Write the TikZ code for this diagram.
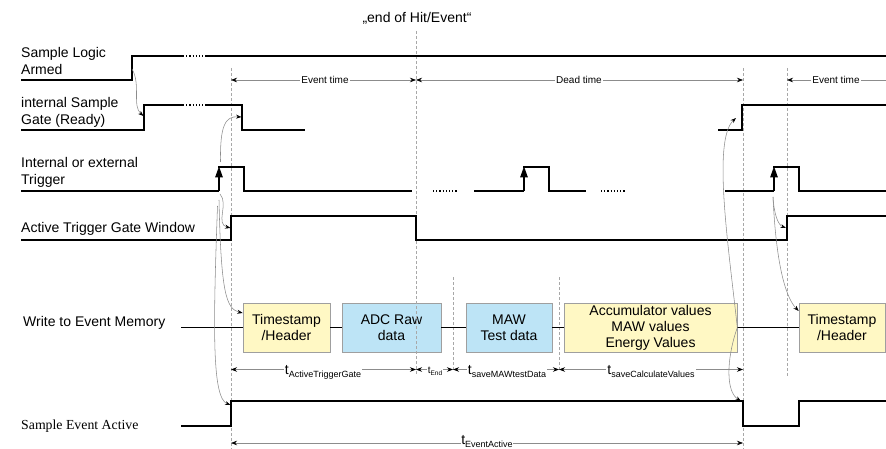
\documentclass[tikz,border=0pt]{standalone}
\usepackage{fontspec}
\setmainfont{Liberation Sans}
\newfontfamily\seriffont{Liberation Serif}
\usetikzlibrary{arrows.meta}
\definecolor{yellowbox}{HTML}{FFF8C4}
\definecolor{bluebox}{HTML}{BDE4F6}
\definecolor{linegray}{HTML}{8C8C8C}
\definecolor{dashgray}{HTML}{A8A8A8}
\newcommand\tlab[1]{{\fontsize{14}{16}\selectfont t}\raisebox{-3pt}{\fontsize{9}{10}\selectfont #1}}
\newcommand\tlabsmall[1]{{\fontsize{10}{12}\selectfont t}\raisebox{-2pt}{\fontsize{6.5}{8}\selectfont #1}}
\begin{document}
\begin{tikzpicture}[x=1pt,y=-1pt,
  sig/.style={line width=1.2pt, black},
  trig/.style={line width=1.2pt, -{Triangle[length=11pt,width=7.5pt]}},
  vdash/.style={dashgray, line width=0.6pt, dash pattern=on 3pt off 2pt},
  dimline/.style={linegray, line width=0.6pt},
  dim/.style={dimline, {Stealth[length=6pt,width=4.5pt,black]}-{Stealth[length=6pt,width=4.5pt,black]}},
  ldim/.style={dimline, {Stealth[length=6pt,width=4.5pt,black]}-},
  curv/.style={linegray, line width=0.55pt, -{Stealth[length=5.5pt,width=4pt,black]}},
  lbl/.style={font=\fontsize{14}{17}\selectfont, align=left, inner sep=0pt},
  boxbase/.style={draw=gray!75, line width=0.6pt, minimum height=49pt, align=center, inner sep=0pt, font=\fontsize{14}{16}\selectfont},
  ybox/.style={boxbase, fill=yellowbox},
  bbox/.style={boxbase, fill=bluebox},
  smalltxt/.style={font=\fontsize{10}{12}\selectfont, fill=white, inner sep=1pt},
  tl/.style={fill=white, inner sep=1pt},
]
\useasboundingbox (0,0) rectangle (886,449);

% ---- boxes (Write to Event Memory)
\node[ybox, minimum width=87pt]  (b1) at (286.5,327.5) {Timestamp\\/Header};
\node[bbox, minimum width=99pt]  (b2) at (391.5,327.5) {ADC Raw\\data};
\node[bbox, minimum width=86pt]  (b3) at (509,327.5)   {MAW\\Test data};
\node[ybox, minimum width=173pt] (b4) at (650.5,327.5) {Accumulator values\\MAW values\\Energy Values};
\node[ybox, minimum width=86pt]  (b5) at (842,327.5)   {Timestamp\\/Header};

% ---- vertical dashed lines
\draw[vdash] (231,68) -- (231,449);
\draw[vdash] (416,31) -- (416,375);
\draw[vdash] (453,277) -- (453,370);
\draw[vdash] (559,277) -- (559,370);
\draw[vdash] (743,68) -- (743,449);
\draw[vdash] (787,68) -- (787,377);

% ---- title
\node[font=\fontsize{14}{16}\selectfont, inner sep=0pt] (title) at (417,18) {„end of Hit/Event“};

% ---- left labels
\node[lbl, anchor=north west] (lArmed) at (21,47) {Sample Logic\\Armed};
\node[lbl, anchor=north west] (lGate) at (21,97) {internal Sample\\Gate (Ready)};
\node[lbl, anchor=north west] (lTrig) at (21,157.5) {Internal or external\\Trigger};
\node[lbl, anchor=base west] (lATG) at (21,233) {Active Trigger Gate Window};
\node[lbl, anchor=base west] (lWrite) at (23,326.5) {Write to Event Memory};
\node[inner sep=0pt, anchor=base west, font=\seriffont\fontsize{13.8}{15}\selectfont] (lSEA) at (21,429.5) {Sample Event Active};

% ---- Sample Logic Armed
\draw[sig] (21,80) -- (132,80) -- (132,56) -- (183,56);
\draw[sig, dotted] (183,56) -- (205,56);
\draw[sig] (205,56) -- (886,56);

% ---- internal Sample Gate
\draw[sig] (21,130) -- (144,130) -- (144,105) -- (183,105);
\draw[sig, dotted] (183,105) -- (205,105);
\draw[sig] (205,105) -- (242,105) -- (242,130) -- (305,130);
\draw[sig] (718,130) -- (742,130) -- (742,105) -- (886,105);

% ---- Trigger
\draw[sig] (21,191) -- (219,191);
\draw[trig] (219,191) -- (219,166.4);
\draw[sig] (218.4,167) -- (244,167) -- (244,191) -- (412,191);
\draw[sig, dotted] (433,191) -- (458,191);
\draw[sig] (474,191) -- (524,191);
\draw[trig] (524,191) -- (524,166.4);
\draw[sig] (523.4,167) -- (549,167) -- (549,191) -- (586,191);
\draw[sig, dotted] (601,191) -- (626,191);
\draw[sig] (725,191) -- (774,191);
\draw[trig] (774,191) -- (774,166.4);
\draw[sig] (773.4,167) -- (799,167) -- (799,191) -- (886,191);

% ---- Active Trigger Gate Window
\draw[sig] (21,240) -- (231,240) -- (231,216) -- (416,216) -- (416,240) -- (787,240) -- (787,216) -- (886,216);

% ---- Write line connectors
\coordinate (wstart) at (181,327.5);
\draw[sig] (wstart) -- (b1.west);
\draw[sig] (b1.east) -- (b2.west);
\draw[sig] (b2.east) -- (b3.west);
\draw[sig] (b3.east) -- (b4.west);
\draw[sig] (b4.east) -- (b5.west);

% ---- Sample Event Active
\draw[sig] (181,426) -- (231,426) -- (231,401) -- (743,401) -- (743,426) -- (799,426) -- (799,401) -- (886,401);

% ---- curved cause arrows
\coordinate (armRise) at (132,69);
\coordinate (gateRise) at (143.5,116);
\coordinate (trigA) at (220.5,162);
\coordinate (gateFall) at (241.5,117);
\coordinate (trigB) at (220,194);
\coordinate (atgRise) at (230.5,228);
\coordinate (trigC) at (219,200);
\coordinate (trigD) at (217.5,206);
\coordinate (seaRise) at (230.5,405);
\draw[curv] (armRise) .. controls (141,84) and (132,106) .. (gateRise);
\draw[curv] (trigA) .. controls (220,126) and (225,116) .. (gateFall);
\draw[curv] (trigB) .. controls (229,204) and (215,224) .. (atgRise);
\draw[curv] (trigC) .. controls (221,292) and (226,309) .. (b1.west |- 0,313);
\draw[curv] (trigD) .. controls (213,330) and (212,398) .. (seaRise);

\coordinate (gateRise2) at (736,118);
\coordinate (seaFall) at (741,401);
\coordinate (trigE) at (773,197);
\coordinate (atgRise2) at (786,228);
\draw[curv] (b4.east) .. controls (729,250) and (712,140) .. (gateRise2);
\draw[curv] (b4.east) .. controls (726,360) and (726,392) .. (seaFall);
\draw[curv] (trigE) .. controls (774,214) and (778,225) .. (atgRise2);
\draw[curv] (trigE) .. controls (776,262) and (785,297) .. (b5.west |- 0,311);

% ---- dimension lines: top row
\draw[dim] (231,80) -- (416,80);
\draw[dim] (416,80) -- (743,80);
\draw[ldim] (787,80) -- (886,80);
\node[smalltxt, anchor=base] (evt1) at (325,84) {Event time};
\node[smalltxt, anchor=base] (dead) at (579,84) {Dead time};
\node[smalltxt, anchor=base] (evt2) at (836,84) {Event time};

% ---- dimension lines: middle row
\draw[dim] (231,369.5) -- (416,369.5);
\draw[dim] (416,369.5) -- (453,369.5);
\draw[dim] (453,369.5) -- (559,369.5);
\draw[dim] (559,369.5) -- (743,369.5);
\node[tl, anchor=base] (tATG) at (323,374) {\tlab{ActiveTriggerGate}};
\node[tl, anchor=base, inner sep=0.5pt] (tEnd) at (435,373) {\tlabsmall{End}};
\node[tl, anchor=base] (tMAW) at (507,374) {\tlab{saveMAWtestData}};
\node[tl, anchor=base] (tCalc) at (651,374) {\tlab{saveCalculateValues}};

% ---- bottom row
\draw[dim] (231,443) -- (743,443);
\node[fill=white, inner sep=0.3pt, anchor=base] (tEA) at (487,444.5) {\tlab{EventActive}};
\end{tikzpicture}
\end{document}
